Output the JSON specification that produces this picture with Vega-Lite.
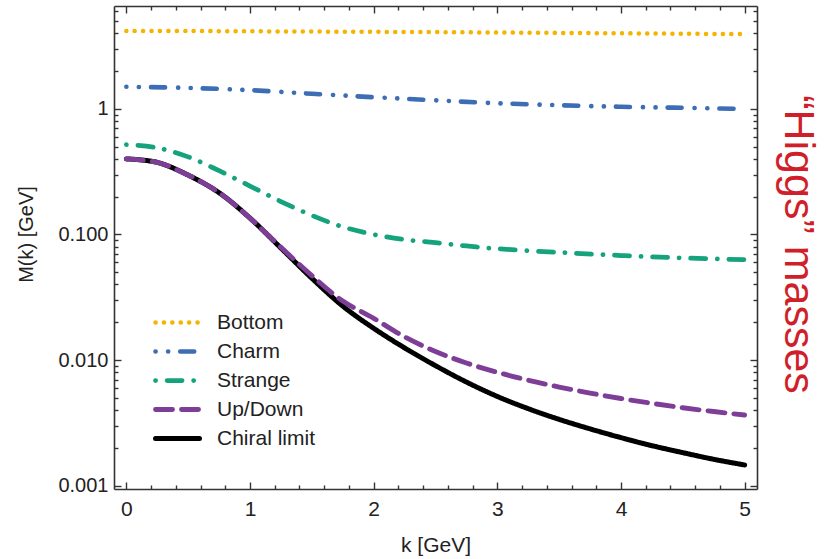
{
  "$schema": "https://vega.github.io/schema/vega-lite/v6.json",
  "width": 643,
  "height": 483,
  "autosize": "none",
  "padding": {"left": 114, "top": 6, "right": 70, "bottom": 70},
  "background": "white",
  "config": {
    "view": {"stroke": null},
    "font": "Liberation Sans",
    "axis": {"grid": false, "domainColor": "#333333", "tickColor": "#333333", "domainWidth": 1.6, "tickWidth": 1.4, "labelFont": "Liberation Sans", "titleFont": "Liberation Sans", "labelColor": "#222222", "titleColor": "#222222", "titleFontWeight": "normal", "labelFontSize": 20, "titleFontSize": 20}
  },
  "data": {"values": [
    {"k": 0, "M": 4.18, "s": "Bottom"}, {"k": 0.5, "M": 4.17, "s": "Bottom"}, {"k": 1, "M": 4.15, "s": "Bottom"}, {"k": 1.5, "M": 4.13, "s": "Bottom"}, {"k": 2, "M": 4.11, "s": "Bottom"}, {"k": 2.5, "M": 4.09, "s": "Bottom"}, {"k": 3, "M": 4.06, "s": "Bottom"}, {"k": 3.5, "M": 4.03, "s": "Bottom"}, {"k": 4, "M": 4.0, "s": "Bottom"}, {"k": 4.5, "M": 3.97, "s": "Bottom"}, {"k": 5, "M": 3.94, "s": "Bottom"},
    {"k": 0, "M": 1.5, "s": "Charm"}, {"k": 0.5, "M": 1.47, "s": "Charm"}, {"k": 1, "M": 1.41, "s": "Charm"}, {"k": 1.5, "M": 1.32, "s": "Charm"}, {"k": 2, "M": 1.24, "s": "Charm"}, {"k": 2.5, "M": 1.17, "s": "Charm"}, {"k": 3, "M": 1.11, "s": "Charm"}, {"k": 3.5, "M": 1.07, "s": "Charm"}, {"k": 4, "M": 1.04, "s": "Charm"}, {"k": 4.5, "M": 1.02, "s": "Charm"}, {"k": 5, "M": 1.0, "s": "Charm"},
    {"k": 0, "M": 0.52, "s": "Strange"}, {"k": 0.25, "M": 0.49, "s": "Strange"}, {"k": 0.5, "M": 0.415, "s": "Strange"}, {"k": 0.75, "M": 0.322, "s": "Strange"}, {"k": 1, "M": 0.243, "s": "Strange"}, {"k": 1.25, "M": 0.183, "s": "Strange"}, {"k": 1.5, "M": 0.142, "s": "Strange"}, {"k": 1.75, "M": 0.115, "s": "Strange"}, {"k": 2, "M": 0.1, "s": "Strange"}, {"k": 2.25, "M": 0.091, "s": "Strange"}, {"k": 2.5, "M": 0.086, "s": "Strange"}, {"k": 2.75, "M": 0.081, "s": "Strange"}, {"k": 3, "M": 0.077, "s": "Strange"}, {"k": 3.5, "M": 0.072, "s": "Strange"}, {"k": 4, "M": 0.068, "s": "Strange"}, {"k": 4.5, "M": 0.065, "s": "Strange"}, {"k": 5, "M": 0.063, "s": "Strange"},
    {"k": 0, "M": 0.4, "s": "Chiral limit"}, {"k": 0.25, "M": 0.375, "s": "Chiral limit"}, {"k": 0.5, "M": 0.297, "s": "Chiral limit"}, {"k": 0.75, "M": 0.215, "s": "Chiral limit"}, {"k": 1, "M": 0.135, "s": "Chiral limit"}, {"k": 1.25, "M": 0.078, "s": "Chiral limit"}, {"k": 1.5, "M": 0.0448, "s": "Chiral limit"}, {"k": 1.75, "M": 0.0269, "s": "Chiral limit"}, {"k": 2, "M": 0.0179, "s": "Chiral limit"}, {"k": 2.25, "M": 0.0125, "s": "Chiral limit"}, {"k": 2.5, "M": 0.00902, "s": "Chiral limit"}, {"k": 2.75, "M": 0.00668, "s": "Chiral limit"}, {"k": 3, "M": 0.00513, "s": "Chiral limit"}, {"k": 3.25, "M": 0.0041, "s": "Chiral limit"}, {"k": 3.5, "M": 0.00337, "s": "Chiral limit"}, {"k": 3.75, "M": 0.00283, "s": "Chiral limit"}, {"k": 4, "M": 0.00241, "s": "Chiral limit"}, {"k": 4.25, "M": 0.00208, "s": "Chiral limit"}, {"k": 4.5, "M": 0.00183, "s": "Chiral limit"}, {"k": 4.75, "M": 0.00162, "s": "Chiral limit"}, {"k": 5, "M": 0.00146, "s": "Chiral limit"},
    {"k": 0, "M": 0.4, "s": "Up/Down"}, {"k": 0.25, "M": 0.375, "s": "Up/Down"}, {"k": 0.5, "M": 0.297, "s": "Up/Down"}, {"k": 0.75, "M": 0.215, "s": "Up/Down"}, {"k": 1, "M": 0.135, "s": "Up/Down"}, {"k": 1.25, "M": 0.079, "s": "Up/Down"}, {"k": 1.5, "M": 0.047, "s": "Up/Down"}, {"k": 1.75, "M": 0.0295, "s": "Up/Down"}, {"k": 2, "M": 0.0215, "s": "Up/Down"}, {"k": 2.25, "M": 0.0153, "s": "Up/Down"}, {"k": 2.5, "M": 0.0117, "s": "Up/Down"}, {"k": 2.75, "M": 0.00947, "s": "Up/Down"}, {"k": 3, "M": 0.00799, "s": "Up/Down"}, {"k": 3.25, "M": 0.00691, "s": "Up/Down"}, {"k": 3.5, "M": 0.0061, "s": "Up/Down"}, {"k": 3.75, "M": 0.00546, "s": "Up/Down"}, {"k": 4, "M": 0.00494, "s": "Up/Down"}, {"k": 4.25, "M": 0.00452, "s": "Up/Down"}, {"k": 4.5, "M": 0.00417, "s": "Up/Down"}, {"k": 4.75, "M": 0.00389, "s": "Up/Down"}, {"k": 5, "M": 0.00365, "s": "Up/Down"}
  ]},
  "resolve": {"axis": {"x": "independent", "y": "independent"}},
  "layer": [
    {
      "mark": {"type": "line", "strokeCap": "round", "strokeJoin": "round", "interpolate": "catmull-rom"},
      "encoding": {
        "x": {"field": "k", "type": "quantitative", "scale": {"domain": [-0.1, 5.1], "nice": false, "zero": false},
          "axis": {"orient": "bottom", "values": [0, 1, 2, 3, 4, 5], "ticks": false, "labelPadding": 9, "labelFontSize": 21, "title": "k [GeV]", "titlePadding": 15, "titleFontSize": 21, "domain": true}},
        "y": {"field": "M", "type": "quantitative", "scale": {"type": "log", "domain": [0.00094, 6.6], "nice": false},
          "axis": {"orient": "left", "values": [0.001, 0.01, 0.1, 1], "ticks": false, "labelPadding": 6, "labelExpr": "datum.value >= 1 ? '1' : format(datum.value, '.3f')", "title": "M(k) [GeV]", "titlePadding": 21, "titleY": 228, "domain": true}},
        "color": {"field": "s", "type": "nominal",
          "scale": {"domain": ["Bottom", "Charm", "Strange", "Up/Down", "Chiral limit"], "range": ["#F5B400", "#3C6DB5", "#15A37D", "#7E3E98", "#000000"]},
          "legend": {"title": null, "orient": "none", "legendX": 50, "legendY": 303, "labelFontSize": 21, "labelFont": "Liberation Sans", "labelColor": "#222222", "symbolType": "M-2,0H2", "symbolSize": 484, "labelOffset": 26, "rowPadding": 5, "padding": 0,
            "encode": {"symbols": {"update": {"strokeCap": {"value": "round"}}}}}},
        "strokeDash": {"field": "s", "type": "nominal",
          "scale": {"domain": ["Bottom", "Charm", "Strange", "Up/Down", "Chiral limit"], "range": [[0.1, 8.3], [0.1, 12.5, 0.1, 12, 14, 13], [0.1, 11.5, 15, 11.5], [17, 9], [1, 0]]},
          "legend": {"title": null, "orient": "none", "legendX": 50, "legendY": 303, "labelFontSize": 21, "labelFont": "Liberation Sans", "labelColor": "#222222", "symbolType": "M-2,0H2", "symbolSize": 484, "labelOffset": 26, "rowPadding": 5, "padding": 0,
            "encode": {"symbols": {"update": {"strokeCap": {"value": "round"}}}}}},
        "strokeWidth": {"field": "s", "type": "nominal",
          "scale": {"domain": ["Bottom", "Charm", "Strange", "Up/Down", "Chiral limit"], "range": [4.5, 5, 6, 6, 5]},
          "legend": null}
      }
    },
    {
      "mark": {"type": "point", "opacity": 0},
      "encoding": {
        "x": {"field": "k", "type": "quantitative", "axis": {"orient": "bottom", "values": [0, 1, 2, 3, 4, 5], "tickSize": -7, "labels": false, "domain": false, "title": null}},
        "y": {"field": "M", "type": "quantitative", "axis": {"orient": "left", "values": [0.001, 0.01, 0.1, 1], "tickSize": -7, "labels": false, "domain": false, "title": null}}
      }
    },
    {
      "mark": {"type": "point", "opacity": 0},
      "encoding": {
        "x": {"field": "k", "type": "quantitative", "axis": {"orient": "bottom", "values": [0.2, 0.4, 0.6, 0.8, 1.2, 1.4, 1.6, 1.8, 2.2, 2.4, 2.6, 2.8, 3.2, 3.4, 3.6, 3.8, 4.2, 4.4, 4.6, 4.8], "tickSize": -4, "labels": false, "domain": false, "title": null}},
        "y": {"field": "M", "type": "quantitative", "axis": {"orient": "left", "values": [0.002, 0.003, 0.004, 0.005, 0.006, 0.007, 0.008, 0.009, 0.02, 0.03, 0.04, 0.05, 0.06, 0.07, 0.08, 0.09, 0.2, 0.3, 0.4, 0.5, 0.6, 0.7, 0.8, 0.9, 2, 3, 4, 5, 6], "tickSize": -4, "labels": false, "domain": false, "title": null}}
      }
    },
    {
      "mark": {"type": "point", "opacity": 0},
      "encoding": {
        "x": {"field": "k", "type": "quantitative", "axis": {"orient": "top", "values": [0, 1, 2, 3, 4, 5], "tickSize": -7, "labels": false, "domain": true, "title": null}},
        "y": {"field": "M", "type": "quantitative", "axis": {"orient": "right", "values": [0.001, 0.01, 0.1, 1], "tickSize": -7, "labels": false, "domain": true, "title": "\u201cHiggs\u201d masses", "titleColor": "#D01F2B", "titleFontSize": 43, "titleAngle": 90, "titlePadding": 18, "titleY": 238}}
      }
    },
    {
      "mark": {"type": "point", "opacity": 0},
      "encoding": {
        "x": {"field": "k", "type": "quantitative", "axis": {"orient": "top", "values": [0.2, 0.4, 0.6, 0.8, 1.2, 1.4, 1.6, 1.8, 2.2, 2.4, 2.6, 2.8, 3.2, 3.4, 3.6, 3.8, 4.2, 4.4, 4.6, 4.8], "tickSize": -4, "labels": false, "domain": false, "title": null}},
        "y": {"field": "M", "type": "quantitative", "axis": {"orient": "right", "values": [0.002, 0.003, 0.004, 0.005, 0.006, 0.007, 0.008, 0.009, 0.02, 0.03, 0.04, 0.05, 0.06, 0.07, 0.08, 0.09, 0.2, 0.3, 0.4, 0.5, 0.6, 0.7, 0.8, 0.9, 2, 3, 4, 5, 6], "tickSize": -4, "labels": false, "domain": false, "title": null}}
      }
    }
  ]
}
